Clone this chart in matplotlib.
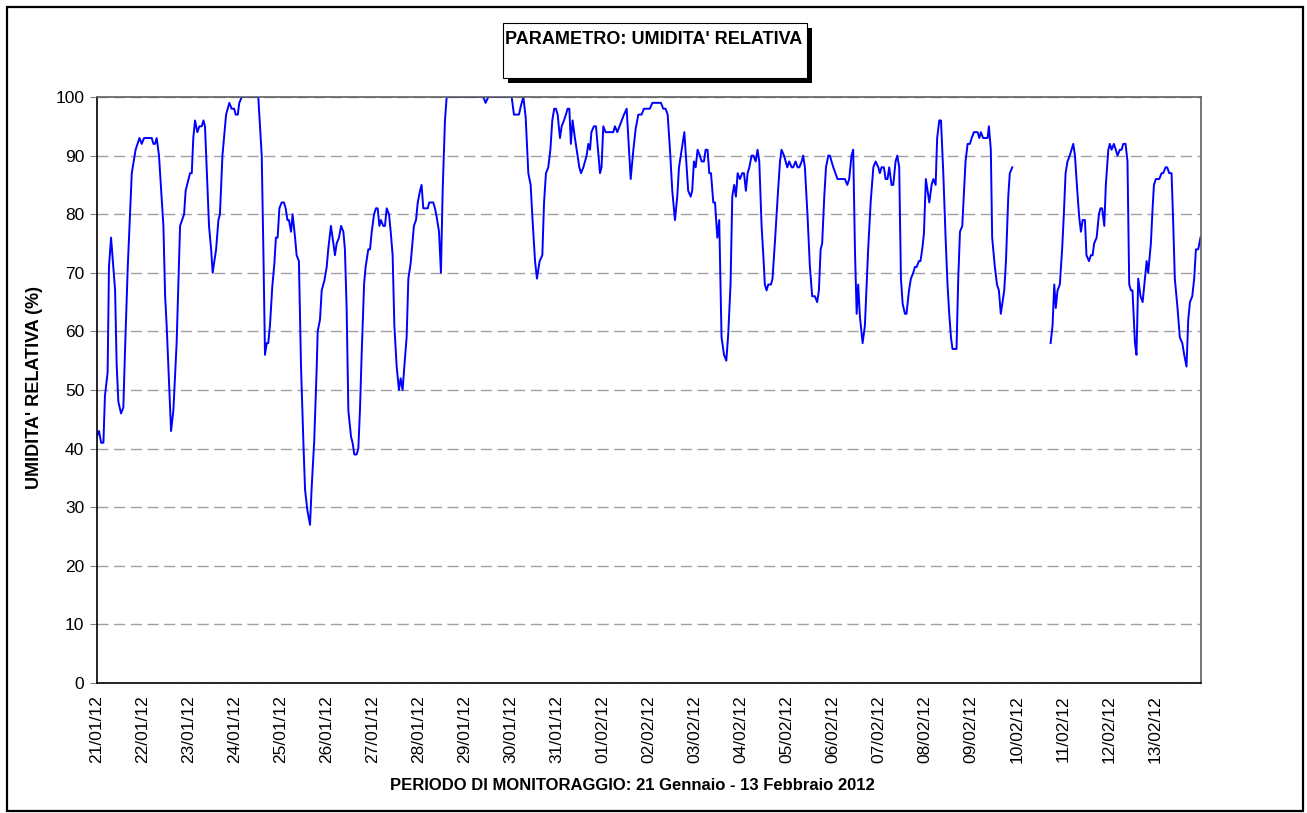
import numpy as np
import pandas as pd
import matplotlib
matplotlib.use("Agg")
import matplotlib.pyplot as plt
import matplotlib.dates as mdates
from matplotlib.patches import Rectangle

plt.rcParams['font.family'] = ['Liberation Sans', 'DejaVu Sans']

# hours since 21/01/2012 00:00 and relative humidity (%)
hours = [
    0, 1.2, 2.3, 3.5, 4.3, 5.7, 6.4, 7.5, 9.6, 10.4, 11.3, 12.7, 13.9, 14.8, 16.2,
    18.3, 20.3, 22.3, 23.5, 24.7, 28.7, 29.6, 30.4, 31.3, 32.5, 34.8, 35.7, 36.5,
    38.8, 40, 41.7, 43.5, 45.6, 46.4, 48.7, 49.6, 50.4, 51.3, 52.5, 53.6, 54.8,
    55.7, 56.5, 58.6, 59.7, 60.5, 62.3, 63.5, 64.3, 65.6, 67.5, 69.2, 70.4, 71.7,
    72.5, 73.6, 74.4, 75.7, 84.3, 86.1, 87.0, 87.8,
    88.7, 89.5, 90.4, 91.6, 92.7, 93.5, 94.4, 95.3, 96.5, 97.7, 98.6, 99.5, 100.3,
    101.4, 102.2, 103.5, 104.3, 105.5, 106.6, 107.8, 108.7, 109.9, 111.3, 112.1,
    113.5, 114.8, 115.3, 116.5, 117.4, 118.8, 120, 120.8, 122.2, 123.5, 124.3,
    125.2, 126.4, 127.5, 128.7, 129.5, 130.4, 131.3, 132.7, 133.5, 134.4, 135.6,
    136.5, 137.4, 138.2, 139.5, 140.3, 141.7, 142.6, 143.5, 144.7, 145.7, 146.6,
    147.5, 148.3, 149.5, 150.4, 151.3, 152.5, 153.4, 154.4, 155.3, 156.5, 157.7,
    158.6, 159.6, 160.5, 161.7, 162.6, 163.8, 165.5, 166.6, 167.5, 168.7, 169.5,
    170.4, 172.7, 173.5, 175.6, 176.5, 177.4, 178.6, 179.6, 180.5, 181.7, 182.6,
    201.7, 202.9, 204.3, 216.5, 217.7, 218.7, 220.3, 221.4, 222.6, 223.8, 225.2,
    226.4, 227.4, 228.7, 229.7, 231.1, 232.5, 233.4, 234.4, 235.6, 236.7, 237.7,
    238.7, 239.6, 240.5, 241.7, 242.6, 243.8, 244.8, 245.7, 246.6, 247.4, 248.3,
    249.5, 250.9, 251.8, 252.7, 253.9, 255.6, 256.5, 257.4, 258.1, 259.4, 260.5,
    261.3, 262.6, 263.4, 264.3, 265.5, 269.5, 270.4, 271.6, 273.9, 275.1, 276.5,
    278.6, 280, 281.2, 282.6, 284.3, 285.5, 288.6, 289.9, 294.4, 295.6, 296.8,
    297.9, 299.1, 300.3, 301.7, 302.9, 303.8, 305.2, 306.6, 307.4, 308.6, 309.9,
    310.7, 311.6, 312.5, 313.5, 314.7, 315.6, 316.8, 317.7, 318.7, 319.6, 320.5,
    321.7, 322.6, 323.8, 324.8, 326, 327.3, 328.5, 329.5, 330.7, 331.6, 332.6,
    333.5, 334.4, 335.6, 336.8, 337.7, 338.7, 339.6, 340.5, 341.7, 342.6, 343.8,
    344.8, 345.7, 346.9, 347.8, 348.6, 349.5, 350.4, 351.8, 352.6, 353.9, 355.3,
    356.5, 357.3, 358.6, 360.3, 361.3, 362.6, 363.4, 364.6, 365.7, 366.6, 367.8,
    368.6, 369.5,
    370.9, 372.1, 373.3, 374.7, 375.9, 376.8, 377.7, 378.5, 379.6, 380.5, 381.7,
    382.5, 384.3, 386.5, 390.4, 391.6, 392.6, 393.8, 394.7, 395.6, 396.5, 397.3,
    398.2, 399.6, 400.8, 402.5, 403.8, 405.2, 406.4, 407.8, 408.6, 409.5, 410.7,
    411.6, 412.6, 413.5, 414.7, 415.6, 416.8, 417.7, 418.7, 419.6, 420.5, 421.7,
    422.5, 423.8, 424.8, 426, 426.9, 427.8, 429, 429.8, 430.7, 431.6, 432.6,
    433.5, 434.4, 435.6, 436.5, 437.7, 438.5, 439.6, 440.5, 441.7, 442.9, 443.9,
    444.8, 445.7, 446.5, 448.6, 449.5, 450.4, 451.6, 452.5, 453.3, 454.4, 455.6,
    456.5, 457.7, 459.6, 460.5, 461.3, 462.5,
    463.4, 464.8, 465.5, 466.5, 467.2, 468.6, 469.7, 470.7, 471.7, 473.5, 474.4,
    475.6, 476.4, 477.7, 487.0,
    497.7, 498.7, 499.6, 500.4, 501.3, 502.5, 503.7, 504.6, 505.5, 506.5, 507.7,
    508.6, 509.5, 510.4, 511.6, 512.6, 513.5, 514.4, 515.6, 516.4, 517.7, 518.7,
    519.6, 520.4, 521.7, 522.9, 523.7, 524.6, 525.7, 526.5, 527.8, 528.6, 529.5,
    530.7, 531.7, 532.6, 533.8, 534.7, 535.6, 536.8, 537.8, 538.7, 539.6, 540.4,
    541.7, 542.5, 543.4, 544.6, 545.7, 546.9, 547.8, 548.6, 550, 550.9, 551.6,
    552.6, 554.4, 555.6, 556.4, 557.7, 558.5, 559.6, 560.8, 561.7, 562.5, 563.9,
    565.1, 566.4, 567.4, 568.6, 569.5, 570.4, 571.6, 572.6, 573.5, 574.7, 575.9,
]
umidita = [
    42, 43, 41, 41, 49, 53, 71, 76, 67, 54.5, 48, 46, 47, 57, 71,
    87, 91, 93, 92, 93, 93, 92, 92, 93, 90, 78, 66, 61,
    43, 46.5, 58, 78, 80, 84, 87, 87, 93, 96, 94, 95, 95,
    96, 95, 78, 74, 70, 74, 79, 80, 90, 97, 99, 98, 98,
    97, 97, 99, 100, 100, 90, 73, 56,
    58, 58, 61, 67.6, 71.6, 76, 76, 81, 82, 82, 81, 79, 79,
    77, 80, 76, 73, 72, 54, 41.4, 33, 29.5, 27, 33,
    41.4, 54, 60, 62, 67, 68.7, 71, 74, 78, 75, 73,
    75, 76, 78, 77, 74, 64, 46.5, 42, 41, 39, 39,
    40, 47, 55.7, 68, 71, 74, 74, 77, 80, 81, 81,
    78, 79, 78, 78, 81, 80, 77, 73, 61, 54, 50,
    52, 50, 54, 59, 69, 71.6, 78, 79, 82, 84, 85,
    81, 81, 82, 82, 81, 79.5, 77, 70, 84, 96, 100,
    100, 99, 100, 100, 97, 97, 97, 98.6, 100, 96.6, 87,
    85, 79, 72, 69, 72, 73, 82, 87, 88, 91, 96,
    98, 98, 97, 93, 95, 96, 97, 98, 98, 92, 96,
    93, 90, 88, 87, 88, 90, 92, 91, 94, 95, 95,
    92, 87, 88, 95, 94, 94, 95, 94, 96, 97, 98,
    86, 91, 94.6, 97, 97, 98, 98, 99, 99, 98, 98,
    97, 91, 84, 79, 83, 88, 91, 94, 90, 84, 83,
    84, 89, 88, 91, 90, 89, 89, 91, 91, 87, 87,
    82, 82, 76, 79, 59, 56, 55, 59.6, 68, 83, 85,
    83, 87, 86, 87, 87, 84, 87, 88, 90, 90, 89,
    91, 89, 78, 73, 68, 67, 68, 68, 69, 75.5, 83,
    89, 91, 90, 88, 89, 88, 88, 89, 88, 88, 89,
    90, 88,
    79.5, 71, 66, 66, 65, 67, 74, 75, 83, 88, 90,
    90, 88, 86, 86, 85, 86, 90, 91, 74, 63, 68,
    62.5, 58, 61, 74, 82, 88, 89, 88, 87, 88, 88,
    86, 86, 88, 85, 85, 89, 90, 88, 69, 64.7, 63,
    63, 67, 69, 70, 71, 71, 72, 72, 74, 76.7, 86,
    84, 82, 85, 86, 85, 93, 96, 96, 87, 76, 68,
    63, 59, 57, 57, 69, 77, 78, 84, 89, 92, 92,
    93, 94, 94, 93, 94, 93,
    93, 93, 95, 91, 76, 71, 68, 67, 63, 67, 72,
    83, 87, 88, np.nan,
    58, 61, 68, 64, 67, 68, 74, 80, 87, 89, 90,
    91, 92, 90, 84, 79.5, 77, 79, 79, 73, 72, 73,
    73, 75, 76, 80, 81, 81, 78, 85, 91, 92, 91,
    92, 91, 90, 91, 91, 92, 92, 89, 68, 67, 67,
    58, 56, 69, 66, 65, 69, 72, 70, 75, 81, 85,
    86, 86, 87, 87, 88, 88, 87, 87, 78, 69, 64,
    59, 58, 56, 54, 62, 65, 66, 69, 74, 74, 76,
]

start = pd.Timestamp("2012-01-21")
giorni = pd.date_range(start, periods=24, freq="D")
tempi = start + pd.to_timedelta(hours, unit="h")

W, H = 1307, 813
fig = plt.figure(figsize=(W / 100, H / 100), dpi=100)
ax = fig.add_axes([96.7 / W, 1 - 683 / H, (1200.7 - 96.7) / W, (683 - 97) / H])

ax.plot(tempi, umidita, color="#0000ff", linewidth=1.4)

ax.set_xlim(start, start + pd.Timedelta(days=24))
ax.set_ylim(0, 100)
ax.set_yticks(range(0, 101, 10))
ax.set_xticks(giorni)
ax.xaxis.set_major_formatter(mdates.DateFormatter("%d/%m/%y"))
ax.tick_params(axis="x", length=0, pad=9, labelsize=12.5, rotation=90)
ax.tick_params(axis="y", length=5, color="#808080", labelsize=12.5, pad=4)
ax.grid(axis="y", linestyle=(0, (8, 4)), color="#a0a0a0", linewidth=1)
ax.set_axisbelow(True)

for s in ["top", "right"]:
    ax.spines[s].set_color("#606060")
    ax.spines[s].set_linewidth(1.2)
for s in ["left", "bottom"]:
    ax.spines[s].set_color("black")
    ax.spines[s].set_linewidth(1.2)

fig.text(35 / W, 1 - 387 / H, "UMIDITA' RELATIVA (%)", rotation=90,
         ha="center", va="center", fontsize=13, fontweight="bold")
fig.text(632 / W, 1 - 785 / H, "PERIODO DI MONITORAGGIO: 21 Gennaio - 13 Febbraio 2012",
         ha="center", va="center", fontsize=12, fontweight="bold")

# title box with shadow
bx0, by0, bx1, by1 = 502.7, 23.3, 806.7, 78.3
fig.patches.append(Rectangle(((bx0 + 5) / W, 1 - (by1 + 5) / H), (bx1 - bx0) / W, (by1 - by0) / H,
                             transform=fig.transFigure, facecolor="black", edgecolor="none"))
fig.patches.append(Rectangle((bx0 / W, 1 - by1 / H), (bx1 - bx0) / W, (by1 - by0) / H,
                             transform=fig.transFigure, facecolor="white", edgecolor="black",
                             linewidth=0.8))
fig.text((bx0 + 2) / W, 1 - 40 / H, "PARAMETRO: UMIDITA' RELATIVA",
         ha="left", va="center", fontsize=13, fontweight="bold")

# outer frame
fig.patches.append(Rectangle((7 / W, 1 - 811 / H), (1303 - 7) / W, (811 - 7) / H,
                             transform=fig.transFigure, facecolor="none",
                             edgecolor="black", linewidth=1.6))

fig.savefig("out.png", dpi=100)
